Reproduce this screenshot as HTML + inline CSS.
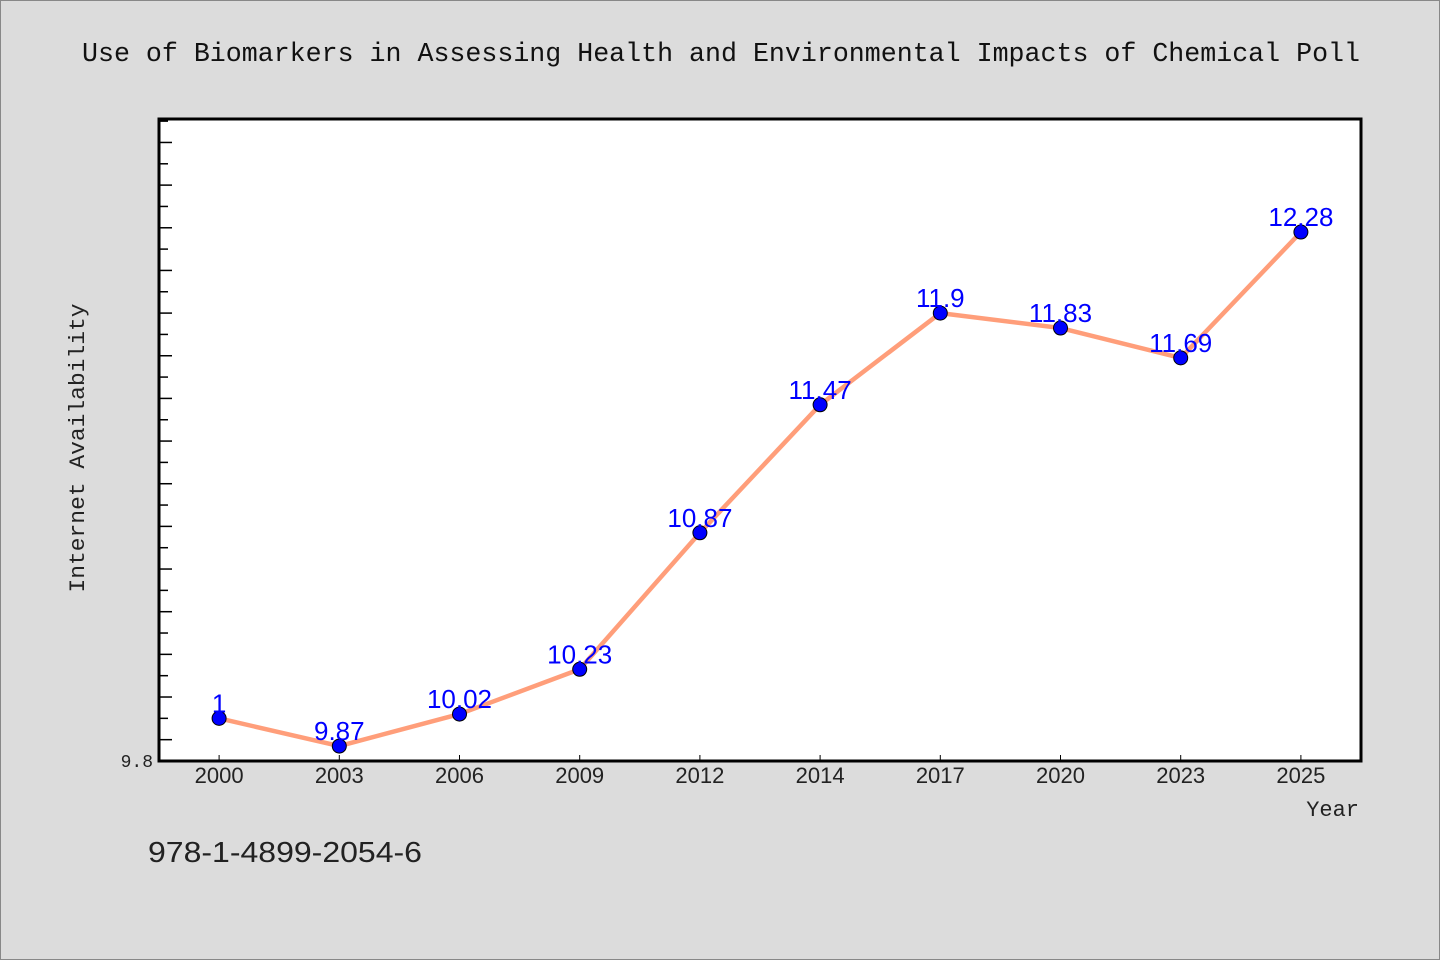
<!DOCTYPE html>
<html><head><meta charset="utf-8"><style>
body{margin:0;background:#dcdcdc;}
svg{display:block;font-family:"Liberation Sans",sans-serif;}
.mono{font-family:"Liberation Mono",monospace;}
</style></head><body>
<svg id="chart" width="1440" height="960">
<rect x="0.5" y="0.5" width="1439" height="959" fill="#dcdcdc" stroke="#888"/>
<text class="mono" x="82" y="61" font-size="26.6" fill="#111" textLength="1278" lengthAdjust="spacingAndGlyphs">Use of Biomarkers in Assessing Health and Environmental Impacts of Chemical Poll</text>
<rect x="159" y="119" width="1202" height="642" fill="#fff"/>
<g id="ticks"></g>
<g id="series"></g>
<rect x="159" y="119" width="1202" height="642" fill="none" stroke="#000" stroke-width="3"/>
<text class="mono" x="153" y="767" text-anchor="end" font-size="18" fill="#222">9.8</text>
<text class="mono" x="84" y="448" transform="rotate(-90 84 448)" text-anchor="middle" font-size="22" fill="#222" textLength="289" lengthAdjust="spacingAndGlyphs">Internet Availability</text>
<text class="mono" x="1359" y="816" text-anchor="end" font-size="22" fill="#222">Year</text>
<text x="148" y="862" font-size="29" fill="#222" textLength="274" lengthAdjust="spacingAndGlyphs">978-1-4899-2054-6</text>
</svg>
<script>
const categories = ["2000","2003","2006","2009","2012","2014","2017","2020","2023","2025"];
const values = [10.0, 9.87, 10.02, 10.23, 10.87, 11.47, 11.9, 11.83, 11.69, 12.28];
const valueLabels = ["1","9.87","10.02","10.23","10.87","11.47","11.9","11.83","11.69","12.28"];
const yMin = 9.8, yMax = 12.81;
const L=159,R=1361,T=119,B=761;
const NS="http://www.w3.org/2000/svg";
const band=(R-L)/categories.length;
const xs=i=>L+band*(i+0.5);
const ys=v=>B-(v-yMin)/(yMax-yMin)*(B-T);
function mk(tag,attrs,parent){const e=document.createElementNS(NS,tag);for(const k in attrs)e.setAttribute(k,attrs[k]);parent.appendChild(e);return e;}
const tg=document.getElementById('ticks'), sg=document.getElementById('series');
for(let k=1;;k++){const v=yMin+k*0.1;if(v>yMax)break;const y=ys(v);
 const t=mk('line',{x1:L,x2:L+(k%2?13:9),y1:y,y2:y,stroke:'#000','stroke-width':1.5},tg);
 
 }
categories.forEach((c,i)=>{const x=xs(i);
 const t=mk('line',{x1:x,x2:x,y1:B,y2:B-6,stroke:'#000','stroke-width':1},tg);
 
 
 const l=mk('text',{x:x,y:B+22,'text-anchor':'middle','font-size':22,fill:'#222'},tg);l.textContent=c;
 
 });
const p=mk('polyline',{points:values.map((v,i)=>xs(i)+','+ys(v)).join(' '),fill:'none',stroke:'#ff9e7a','stroke-width':4.5,'stroke-linejoin':'round'},sg);


values.forEach((v,i)=>{
 const c=mk('circle',{cx:xs(i),cy:ys(v),r:7,fill:'#0000ff',stroke:'#000','stroke-width':1},sg);
 
 
 const t=mk('text',{x:xs(i),y:ys(v)-6,'text-anchor':'middle','font-size':26,fill:'#0000ff'},sg);t.textContent=valueLabels[i];
 
 });
</script>
</body></html>
